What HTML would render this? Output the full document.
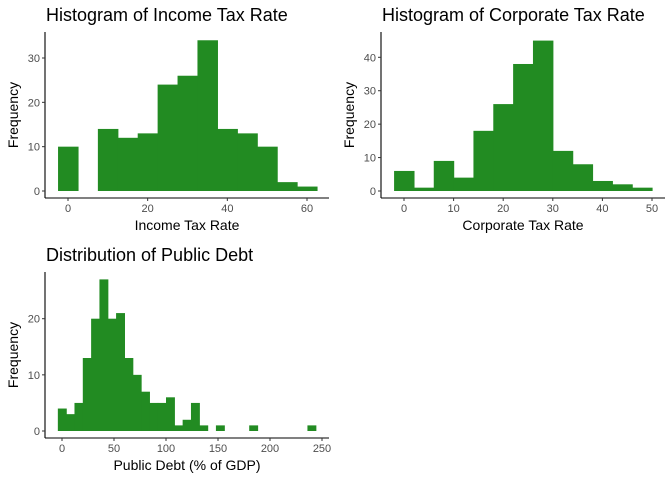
<!DOCTYPE html>
<html><head><meta charset="utf-8"><style>
body{margin:0;background:#fff;}
svg text{font-family:"Liberation Sans",sans-serif;}
</style></head><body>
<svg id="s" width="672" height="480" xmlns="http://www.w3.org/2000/svg"></svg>
<script>
const incomeCenters=[0,5,10,15,20,25,30,35,40,45,50,55,60];
const incomeCounts=[10,0,14,12,13,24,26,34,14,13,10,2,1];
const incomeXTicks=[0,20,40,60];
const incomeYTicks=[0,10,20,30];
const corpCenters=[0,4,8,12,16,20,24,28,32,36,40,44,48];
const corpCounts=[6,1,9,4,18,26,38,45,12,8,3,2,1];
const corpXTicks=[0,10,20,30,40,50];
const corpYTicks=[0,10,20,30,40];
const debtCenters=[0,8,16,24,32,40,48,56,64,72,80,88,96,104,112,120,128,136,144,152,160,168,176,184,192,200,208,216,224,232,240];
const debtCounts=[4,3,5,13,20,27,20,21,13,10,7,5,5,6,1,2,5,1,0,1,0,0,0,1,0,0,0,0,0,0,1];
const debtXTicks=[0,50,100,150,200,250];
const debtYTicks=[0,10,20];

const S=document.getElementById('s');
const NS='http://www.w3.org/2000/svg';
function mk(t,a,txt){const e=document.createElementNS(NS,t);for(const k in a)e.setAttribute(k,a[k]);if(txt!=null)e.textContent=txt;S.appendChild(e);return e;}

function panel(p){
  const xs=v=>p.x0+(v-p.xv0)*(p.x1-p.x0)/(p.xv1-p.xv0);
  const ys=v=>p.y0+(v)*(p.y1-p.y0)/(p.yv1);
  let t=mk('text',{x:p.ax+1,y:p.titleY,'font-size':18,fill:'#000'},p.title);
  
  
  p.centers.forEach((c,i)=>{
    if(!p.counts[i])return;
    const r=mk('rect',{x:xs(c-p.bw/2),y:ys(p.counts[i]),width:xs(c+p.bw/2)-xs(c-p.bw/2)+0.6,height:ys(0)-ys(p.counts[i]),fill:'#228B22'});
    
    
  });
  let l=mk('line',{x1:p.ax,y1:p.top,x2:p.ax,y2:p.ab,stroke:'#000','stroke-width':1.1});
  
  
  l=mk('line',{x1:p.ax,y1:p.ab,x2:p.right,y2:p.ab,stroke:'#000','stroke-width':1.1});
  
  
  p.yt.forEach(v=>{
    mk('line',{x1:p.ax-3,y1:ys(v),x2:p.ax,y2:ys(v),stroke:'#333'});
    const e=mk('text',{x:p.ax-5,y:ys(v)+4,'font-size':11,fill:'#4d4d4d','text-anchor':'end'},v);
    
    
  });
  p.xt.forEach(v=>{
    mk('line',{x1:xs(v),y1:p.ab,x2:xs(v),y2:p.ab+3,stroke:'#333'});
    const e=mk('text',{x:xs(v),y:p.ab+14,'font-size':11,fill:'#4d4d4d','text-anchor':'middle'},v);
    
    
  });
  t=mk('text',{x:(p.ax+p.right)/2,y:p.ab+32,'font-size':14,fill:'#000','text-anchor':'middle'},p.xlab);
  
  
  const cy=(p.top+p.ab)/2;
  t=mk('text',{x:p.ax-27,y:cy,'font-size':14,fill:'#000','text-anchor':'middle',transform:`rotate(-90 ${p.ax-27} ${cy})`},'Frequency');
  
  
}
panel({id:'income',title:'Histogram of Income Tax Rate',titleY:21,centers:incomeCenters,counts:incomeCounts,bw:5,xt:incomeXTicks,yt:incomeYTicks,
  x0:68,xv0:0,x1:307,xv1:60,y0:191,y1:58,yv1:30,ax:45,ab:198,top:32,right:329,xlab:'Income Tax Rate'});
panel({id:'corporate',title:'Histogram of Corporate Tax Rate',titleY:21,centers:corpCenters,counts:corpCounts,bw:4,xt:corpXTicks,yt:corpYTicks,
  x0:404,xv0:0,x1:652,xv1:50,y0:191,y1:57.3,yv1:40,ax:381,ab:198,top:32,right:665,xlab:'Corporate Tax Rate'});
panel({id:'debt',title:'Distribution of Public Debt',titleY:261,centers:debtCenters,counts:debtCounts,bw:8,xt:debtXTicks,yt:debtYTicks,
  x0:62,xv0:0,x1:322,xv1:250,y0:431,y1:318.7,yv1:20,ax:45,ab:438,top:272,right:329,xlab:'Public Debt (% of GDP)'});
</script>
</body></html>
